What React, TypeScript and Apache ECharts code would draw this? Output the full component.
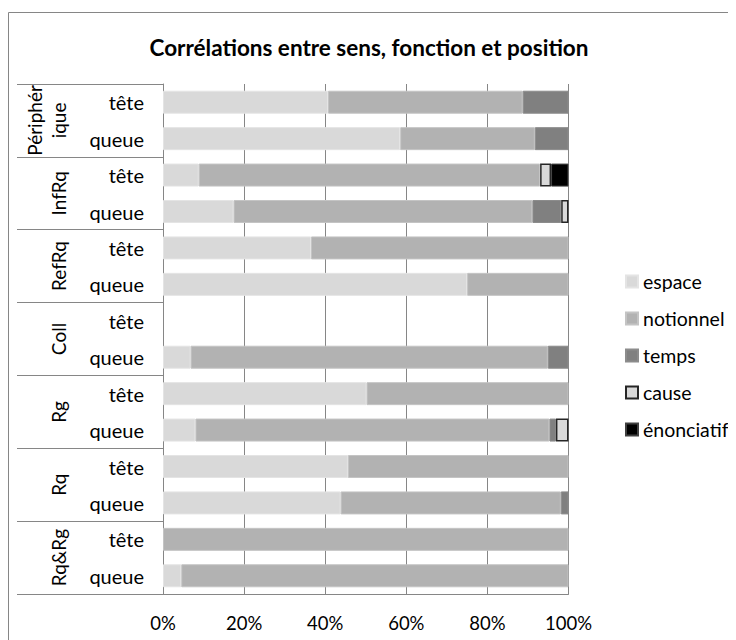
import React, { useEffect, useRef } from "react";
import * as echarts from "echarts";

const groups = ["Périphérique", "InfRq", "RefRq", "Coll", "Rg", "Rq", "Rq&Rg"];
const positions = ["tête", "queue"];
const rowKeys = groups.flatMap((g) => positions.map((p) => `${g}|${p}`));
const xTicks = [0, 20, 40, 60, 80, 100];

const espace = [40.7, 58.5, 8.8, 17.4, 36.5, 75.0, null, 6.8, 50.2, 8.0, 45.6, 43.8, null, 4.5];
const notionnel = [48.0, 33.2, 84.2, 73.7, 63.5, 25.0, null, 88.1, 49.8, 87.3, 54.4, 54.3, 100, 95.5];
const temps = [11.3, 8.3, null, 7.1, null, null, null, 5.1, null, 1.6, null, 1.9, null, null];
const cause = [null, null, 2.7, 1.8, null, null, null, null, null, 3.1, null, null, null, null];
const enonciatif = [null, null, 4.3, null, null, null, null, null, null, null, null, null, null, null];

const FONT = "Lato, 'Open Sans', sans-serif";

export default function App() {
  const ref = useRef<HTMLDivElement>(null);
  useEffect(() => {
    if (!ref.current) return;
    const chart = echarts.init(ref.current, undefined, { renderer: "svg" });
    const mk = (name: string, data: (number | null)[], color: string, border: string, bw: number) => ({
      name,
      type: "bar",
      stack: "total",
      barWidth: 23,
      data,
      itemStyle: { color, borderColor: border, borderWidth: bw },
    });
    chart.setOption({
      animation: false,
      textStyle: { fontFamily: FONT },
      title: {
        text: "Corrélations entre sens, fonction et position",
        left: 356,
        textAlign: "center",
        top: 21,
        textStyle: { fontFamily: FONT, fontSize: 22.5, fontWeight: "bold", color: "#000", lineHeight: 26 },
      },
      graphic: [
        {
          type: "line",
          shape: { x1: 0.5, y1: 4.5, x2: 800, y2: 4.5 },
          style: { stroke: "#868686", lineWidth: 1 },
          silent: true,
        },
        {
          type: "line",
          shape: { x1: 0.5, y1: 4.5, x2: 0.5, y2: 800 },
          style: { stroke: "#868686", lineWidth: 1 },
          silent: true,
        },
      ],
      legend: {
        orient: "vertical",
        left: 612,
        top: 257.5,
        icon: "rect",
        itemWidth: 12,
        itemHeight: 12,
        itemGap: 15,
        textStyle: { fontFamily: FONT, fontSize: 19.5, color: "#000", lineHeight: 22 },
        data: ["espace", "notionnel", "temps", "cause", "énonciatif"],
      },
      grid: { left: 155, right: 167.5, top: 76, bottom: 46, containLabel: false },
      xAxis: {
        type: "value",
        min: 0,
        max: 100,
        interval: 20,
        axisLine: { show: true, lineStyle: { color: "#868686" } },
        axisTick: { show: false },
        splitLine: { show: true, lineStyle: { color: "#868686" } },
        axisLabel: {
          formatter: (v: number) => (xTicks.includes(v) ? `${v}%` : ""),
          fontFamily: FONT,
          fontSize: 18.5,
          lineHeight: 22,
          color: "#000",
          margin: 18,
        },
      },
      yAxis: [
        {
          type: "category",
          data: rowKeys,
          inverse: true,
          position: "left",
          axisLine: { show: true, lineStyle: { color: "#868686" } },
          axisTick: { show: false },
          axisLabel: {
            interval: 0,
            formatter: (v: string) => v.split("|")[1],
            fontFamily: FONT,
            fontSize: 20,
            color: "#000",
            margin: 19,
          },
        },
        {
          type: "category",
          data: groups,
          inverse: true,
          position: "left",
          axisLine: { show: false },
          axisTick: { show: true, interval: 0, length: 146, lineStyle: { color: "#868686" } },
          axisLabel: {
            interval: 0,
            hideOverlap: false,
            rotate: 90,
            formatter: (v: string) => (v === "Périphérique" ? "Périphér\nique" : v),
            fontFamily: FONT,
            fontSize: 19,
            lineHeight: 24,
            color: "#000",
            margin: 93,
          },
        },
      ],
      series: [
        mk("espace", espace, "#d9d9d9", "#e4e4e4", 1),
        mk("notionnel", notionnel, "#b2b2b2", "#c4c4c4", 1),
        mk("temps", temps, "#808080", "#8c8c8c", 1),
        mk("cause", cause, "#d9d9d9", "#262626", 1.5),
        mk("énonciatif", enonciatif, "#000000", "#404040", 1),
      ],
    });
    return () => chart.dispose();
  }, []);
  return <div ref={ref} style={{ width: 728, height: 632 }} />;
}
